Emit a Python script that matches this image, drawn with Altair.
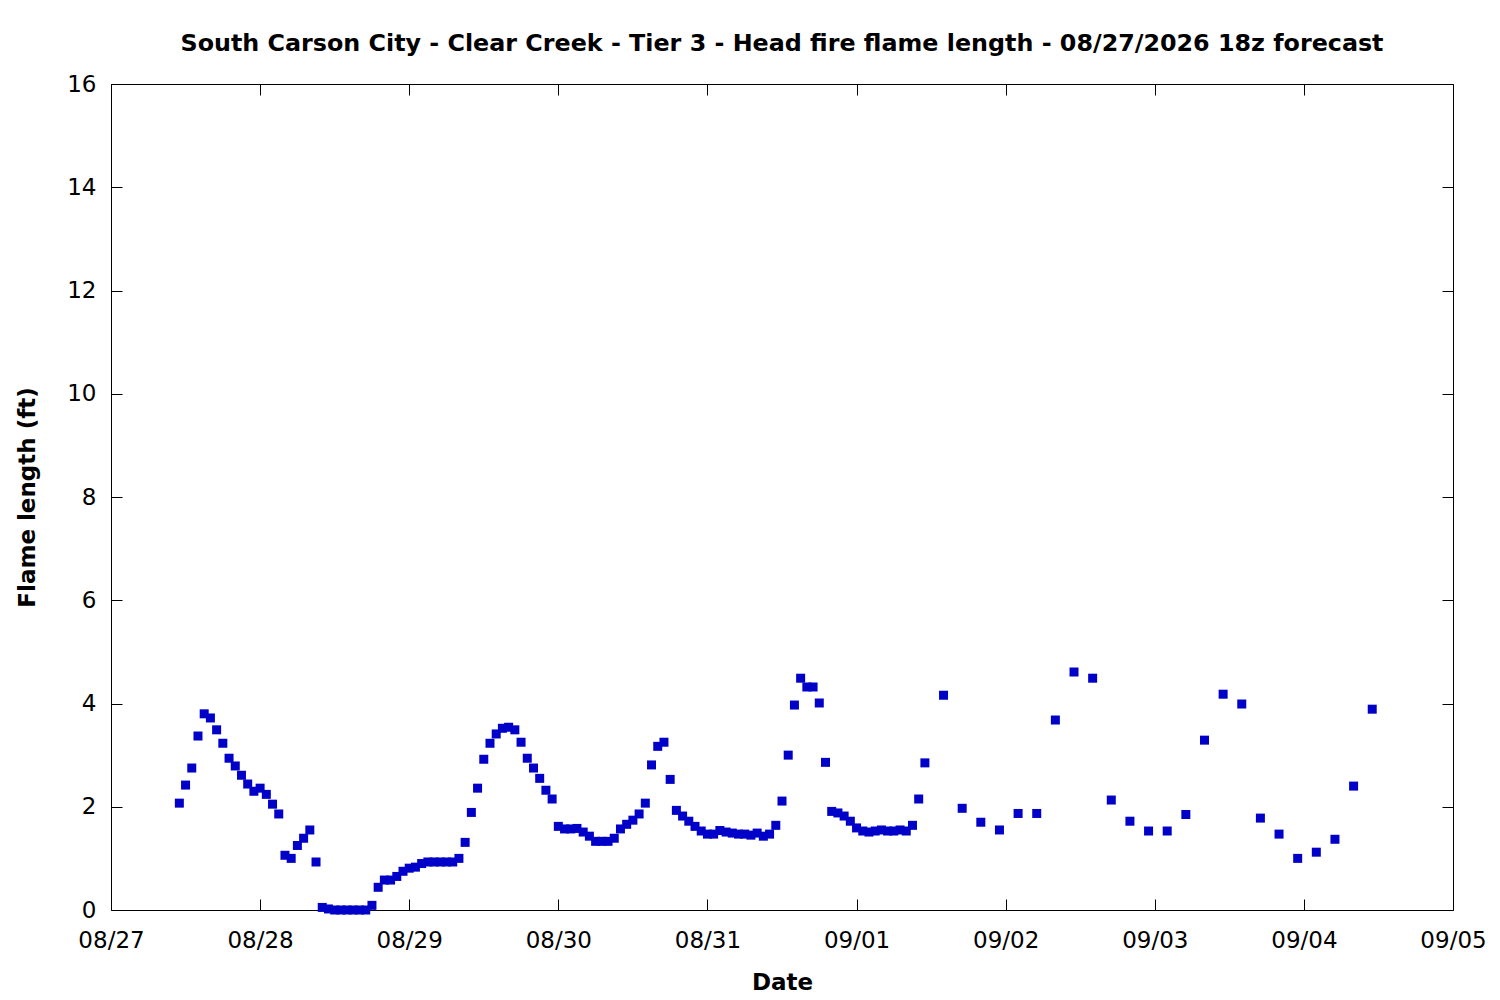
import altair as alt
import pandas as pd

# Flame length (ft), hourly from 08/27 11:00 to 09/01 11:00
flame_0827 = [2.07, 2.42, 2.75, 3.37, 3.80, 3.72, 3.49, 3.23, 2.94, 2.79, 2.61, 2.44, 2.30]
flame_0828 = [2.36, 2.24, 2.05, 1.86, 1.06, 1.00, 1.25, 1.39, 1.55, 0.93, 0.05, 0.02,
              0.0, 0.0, 0.0, 0.0, 0.0, 0.0, 0.09, 0.44, 0.58, 0.58, 0.65, 0.75]
flame_0829 = [0.81, 0.83, 0.90, 0.93, 0.93, 0.93, 0.93, 0.93, 1.00, 1.31, 1.89, 2.36,
              2.92, 3.23, 3.41, 3.52, 3.54, 3.49, 3.25, 2.94, 2.75, 2.55, 2.32, 2.15]
flame_0830 = [1.62, 1.57, 1.57, 1.58, 1.51, 1.43, 1.33, 1.33, 1.33, 1.39, 1.57, 1.66,
              1.74, 1.86, 2.07, 2.81, 3.17, 3.25, 2.53, 1.93, 1.82, 1.72, 1.62, 1.53]
flame_0831 = [1.47, 1.47, 1.54, 1.51, 1.49, 1.47, 1.47, 1.45, 1.49, 1.43, 1.47, 1.64,
              2.11, 3.00, 3.97, 4.49, 4.32, 4.32, 4.01, 2.86, 1.91, 1.88, 1.82, 1.72]
flame_0901 = [1.59, 1.53, 1.51, 1.53, 1.55, 1.53, 1.53, 1.55, 1.53, 1.64, 2.15, 2.85]

# then every 3 hours from 09/01 14:00 to 09/04 11:00
flame_3hourly = [4.16, 1.97, 1.70, 1.55,
                 1.87, 1.87, 3.68, 4.61, 4.49, 2.13, 1.72, 1.53,
                 1.53, 1.85, 3.29, 4.18, 3.99, 1.78, 1.47, 1.00,
                 1.12, 1.37, 2.40, 3.89]

hourly_times = pd.date_range("2026-08-27 11:00", "2026-09-01 11:00", freq="h")
three_hourly_times = pd.date_range("2026-09-01 14:00", "2026-09-04 11:00", freq="3h")

# tick days on the x axis (month, day)
tick_days = [(8, 27), (8, 28), (8, 29), (8, 30), (8, 31), (9, 1), (9, 2), (9, 3), (9, 4), (9, 5)]
y_ticks = [0, 2, 4, 6, 8, 10, 12, 14, 16]

flame = (flame_0827 + flame_0828 + flame_0829 + flame_0830 + flame_0831 + flame_0901
         + flame_3hourly)
times = [t.strftime("%Y-%m-%dT%H:%M:%S") for t in list(hourly_times) + list(three_hourly_times)]
df = pd.DataFrame({"time": times, "flame": flame})

FONT = "DejaVu Sans"
day_values = [alt.DateTime(year=2026, month=m, date=d) for m, d in tick_days]
x_scale = alt.Scale(domain=[day_values[0], day_values[-1]], nice=False)
y_scale = alt.Scale(domain=[y_ticks[0], y_ticks[-1]], nice=False, zero=False)

# ticks point inward: the axis line is pulled inside by the tick length
axis_common = dict(
    domain=False, grid=False, ticks=True, tickSize=11, offset=-11,
    tickColor="black", tickWidth=1, labelFlush=False,
    labelFont=FONT, labelFontSize=23, labelColor="black",
    titleFont=FONT, titleFontSize=23, titleFontWeight="bold", titleColor="black",
)

points = alt.Chart(df).mark_square(size=81, color="#0000c8", opacity=1).encode(
    x=alt.X("time:T", scale=x_scale,
            axis=alt.Axis(orient="bottom", values=day_values, format="%m/%d",
                          title="Date", labelPadding=19, titlePadding=19, **axis_common)),
    y=alt.Y("flame:Q", scale=y_scale,
            axis=alt.Axis(orient="left", values=y_ticks, title="Flame length (ft)",
                          labelPadding=15, titlePadding=27, **axis_common)),
)

# invisible copy carrying the mirrored ticks on the top and right edges
mirror = alt.Chart(df).mark_square(size=81, opacity=0).encode(
    x=alt.X("time:T", scale=x_scale,
            axis=alt.Axis(orient="top", values=day_values, labels=False, title=None,
                          **axis_common)),
    y=alt.Y("flame:Q", scale=y_scale,
            axis=alt.Axis(orient="right", values=y_ticks, labels=False, title=None,
                          **axis_common)),
)

chart = alt.layer(points, mirror).resolve_axis(
    x="independent", y="independent"
).properties(
    width=1342,
    height=826,
    title=alt.TitleParams(
        text="South Carson City - Clear Creek - Tier 3 - Head fire flame length - 08/27/2026 18z forecast",
        font=FONT, fontSize=23.8, fontWeight="bold", color="black",
        anchor="middle", frame="group", offset=17,
    ),
    autosize=alt.AutoSizeParams(type="none"),
    padding={"left": 103, "top": 76, "right": 36, "bottom": 90},
    background="white",
).configure_view(
    stroke="black", strokeWidth=1
)

chart.save("out.html", embed_options={"renderer": "svg", "actions": False})
